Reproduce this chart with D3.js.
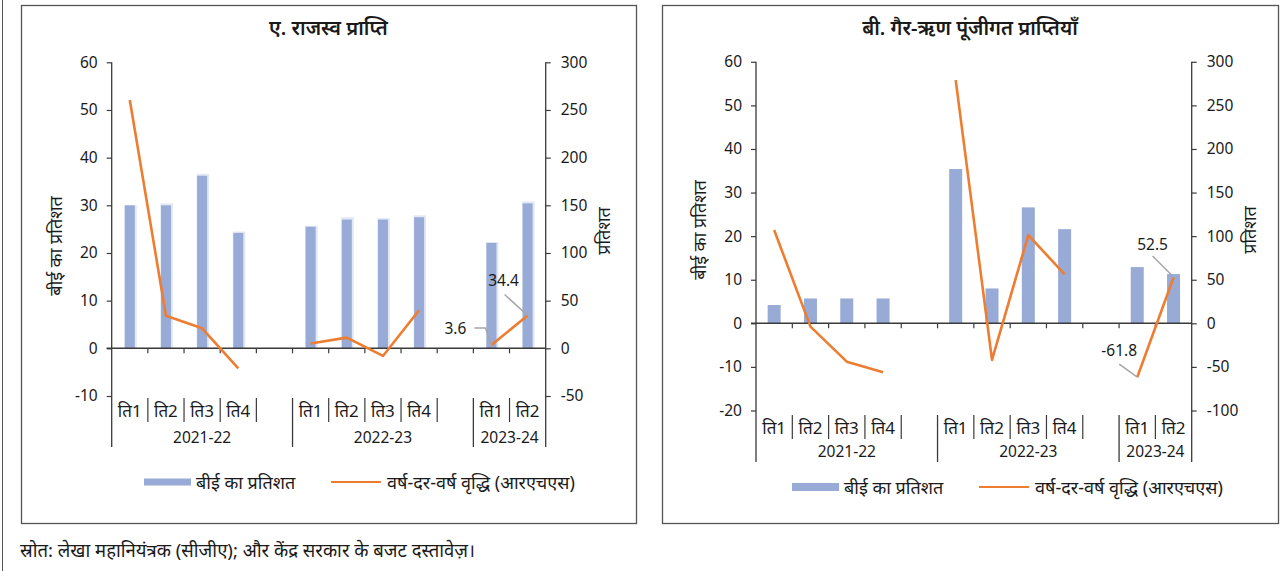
<!DOCTYPE html>
<html>
<head>
<meta charset="utf-8">
<script src="https://cdn.jsdelivr.net/npm/d3@7"></script>
<style>
  html, body { margin: 0; padding: 0; background: #fff; }
  svg { display: block; }
  text { font-family: "Noto Sans", "Lohit Devanagari", "FreeSans", sans-serif; fill: #1a1a1a; }
</style>
</head>
<body>
<svg id="chart" width="1286" height="571"></svg>
<script>
// Quarter slots (blank entries separate fiscal years)
const quarters = ["ति1", "ति2", "ति3", "ति4", "", "ति1", "ति2", "ति3", "ति4", "", "ति1", "ति2"];
const years = ["2021-22", "2022-23", "2023-24"];
const yearSpans = [[0, 5], [5, 10], [10, 12]];

// A. Revenue receipts
const revShareBE = [30.0, 30.0, 36.2, 24.2, null, 25.5, 27.0, 27.0, 27.5, null, 22.1, 30.4];
const revShareBEShadow = [30.0, 30.4, 36.6, 24.5, null, 25.7, 27.5, 27.3, 27.9, null, 22.3, 30.8];
const revGrowth = [260.4, 34.2, 21.0, -21.0, null, 5.0, 11.2, -8.0, 40.0, null, 3.6, 34.4];

// B. Non-debt capital receipts
const capShareBE = [4.2, 5.7, 5.7, 5.7, null, 35.4, 8.0, 26.6, 21.6, null, 12.9, 11.3];
const capGrowth = [107.0, -3.8, -44.0, -56.0, null, 279.0, -42.0, 101.3, 56.2, null, -61.8, 52.5];

const leftTicksA = [-10, 0, 10, 20, 30, 40, 50, 60];
const rightTicksA = [-50, 0, 50, 100, 150, 200, 250, 300];
const leftTicksB = [-20, -10, 0, 10, 20, 30, 40, 50, 60];
const rightTicksB = [-100, -50, 0, 50, 100, 150, 200, 250, 300];

const titles = ["ए. राजस्व प्राप्ति", "बी. गैर-ऋण पूंजीगत प्राप्तियाँ"];
const yTitleLeft = "बीई का प्रतिशत";
const yTitleRight = "प्रतिशत";
const legendBar = "बीई का प्रतिशत";
const legendLine = "वर्ष-दर-वर्ष वृद्धि (आरएचएस)";
const sourceNote = "स्रोत: लेखा महानियंत्रक (सीजीए); और केंद्र सरकार के बजट दस्तावेज़।";

const BAR = "#98aad6";
const BAR_SHADOW = "#e1e7f4";
const LINE = "#ed7d31";
const AXIS = "#3a3a3a";
const LEADER = "#a6a6a6";
const NUM_FONT = '"Noto Sans", sans-serif';

const svg = d3.select("#chart");

// outer frame line on the left
svg.append("line").attr("x1", 2.5).attr("x2", 2.5).attr("y1", 0).attr("y2", 571)
  .attr("stroke", "#555").attr("stroke-width", 1);

function drawPanel(cfg) {
  const g = svg.append("g");
  g.append("rect").attr("x", cfg.box[0] + 0.5).attr("y", cfg.box[1] + 0.5)
    .attr("width", cfg.box[2] - cfg.box[0]).attr("height", cfg.box[3] - cfg.box[1])
    .attr("fill", "none").attr("stroke", "#555").attr("stroke-width", 1.3);

  g.append("text").attr("x", (cfg.box[0] + cfg.box[2]) / 2).attr("y", 27)
    .attr("text-anchor", "middle").attr("dominant-baseline", "central")
    .attr("font-size", 20).attr("font-weight", 600).text(cfg.title);

  const x = d3.scaleBand().domain(d3.range(quarters.length)).range([cfg.x0, cfg.x1]).paddingInner(0).paddingOuter(0);
  const yL = d3.scaleLinear().domain(cfg.leftDomain).range([cfg.yBottom, cfg.yTop]);
  const yR = d3.scaleLinear().domain(cfg.rightDomain).range([cfg.yBottom, cfg.yTop]);
  const bw = cfg.barWidth;

  // faint companion bars
  if (cfg.shadow) {
    g.append("g").selectAll("rect").data(cfg.shadow.map((v, i) => ({ v, i })).filter(d => d.v != null))
      .join("rect")
      .attr("x", d => x(d.i) + x.bandwidth() / 2 - bw / 2 - 0.5)
      .attr("width", bw + 2.5)
      .attr("y", d => yL(d.v))
      .attr("height", d => yL(0) - yL(d.v))
      .attr("fill", BAR_SHADOW);
  }

  // bars
  g.append("g").selectAll("rect").data(cfg.bars.map((v, i) => ({ v, i })).filter(d => d.v != null))
    .join("rect")
    .attr("x", d => x(d.i) + x.bandwidth() / 2 - bw / 2)
    .attr("width", bw)
    .attr("y", d => yL(Math.max(0, d.v)))
    .attr("height", d => Math.abs(yL(0) - yL(d.v)))
    .attr("fill", BAR);

  // value axes
  const fmt = d => String(d);
  const axL = d3.axisLeft(yL).tickValues(cfg.leftTicks).tickSize(5).tickPadding(9).tickFormat(fmt);
  const gL = g.append("g").attr("transform", `translate(${cfg.x0},0)`).call(axL);
  const axR = d3.axisRight(yR).tickValues(cfg.rightTicks).tickSize(5).tickPadding(10).tickFormat(fmt);
  const gR = g.append("g").attr("transform", `translate(${cfg.x1},0)`).call(axR);
  [gL, gR].forEach(a => {
    a.select(".domain").remove();
    a.selectAll(".tick line").attr("stroke", AXIS).attr("stroke-width", 1.2);
    a.selectAll(".tick text").attr("font-size", 15.5).attr("fill", "#1a1a1a")
      .style("font-family", NUM_FONT);
  });
  // vertical axis lines extend down to the category labels
  g.append("line").attr("x1", cfg.x0).attr("x2", cfg.x0).attr("y1", cfg.yTop).attr("y2", cfg.catBottom)
    .attr("stroke", AXIS).attr("stroke-width", 1.3);
  g.append("line").attr("x1", cfg.x1).attr("x2", cfg.x1).attr("y1", cfg.yTop).attr("y2", cfg.catBottom)
    .attr("stroke", AXIS).attr("stroke-width", 1.3);

  // zero line with slot ticks
  g.append("line").attr("x1", cfg.x0 - 5).attr("x2", cfg.x1).attr("y1", yL(0)).attr("y2", yL(0))
    .attr("stroke", AXIS).attr("stroke-width", 1.5);
  g.append("g").selectAll("line").data(d3.range(1, quarters.length)).join("line")
    .attr("x1", i => x(i)).attr("x2", i => x(i))
    .attr("y1", yL(0)).attr("y2", yL(0) + 5)
    .attr("stroke", AXIS).attr("stroke-width", 1.2);

  // growth line (right axis)
  const line = d3.line().defined(d => d.v != null)
    .x(d => x(d.i) + x.bandwidth() / 2).y(d => yR(d.v));
  g.append("path").datum(cfg.line.map((v, i) => ({ v, i })))
    .attr("d", line).attr("fill", "none").attr("stroke", LINE).attr("stroke-width", 2.6)
    .attr("stroke-linejoin", "round");

  // category labels: quarters
  g.append("g").selectAll("text").data(quarters.map((q, i) => ({ q, i })).filter(d => d.q))
    .join("text")
    .attr("x", d => x(d.i) + x.bandwidth() / 2).attr("y", cfg.qY)
    .attr("text-anchor", "middle").attr("dominant-baseline", "central")
    .attr("font-size", 17).text(d => d.q);
  // separators between quarters
  const seps = [];
  yearSpans.forEach(([a, b]) => {
    const n = quarters.slice(a, b).filter(q => q).length;
    for (let k = 1; k <= n; k++) if (a + k < b) seps.push(a + k);
  });
  g.append("g").selectAll("line").data(seps).join("line")
    .attr("x1", i => x(i)).attr("x2", i => x(i))
    .attr("y1", cfg.qY - 12).attr("y2", cfg.qY + 12)
    .attr("stroke", AXIS).attr("stroke-width", 1.2);
  // year group lines and labels
  const bounds = [...new Set(yearSpans.flat())].filter(i => i > 0 && i < quarters.length);
  g.append("g").selectAll("line").data(bounds).join("line")
    .attr("x1", i => x(i)).attr("x2", i => x(i))
    .attr("y1", cfg.qY - 12).attr("y2", cfg.catBottom)
    .attr("stroke", AXIS).attr("stroke-width", 1.3);
  g.append("g").selectAll("text").data(years).join("text")
    .attr("x", (d, k) => (x(yearSpans[k][0]) + (yearSpans[k][1] < quarters.length ? x(yearSpans[k][1]) : cfg.x1)) / 2)
    .attr("y", cfg.yearY).attr("text-anchor", "middle").attr("dominant-baseline", "central")
    .attr("font-size", 15.5).style("font-family", NUM_FONT).text(d => d);

  // axis titles
  g.append("text").attr("transform", `translate(${cfg.x0 - 57},${cfg.yTitleY}) rotate(-90)`)
    .attr("text-anchor", "middle").attr("dominant-baseline", "central")
    .attr("font-size", 18).text(yTitleLeft);
  g.append("text").attr("transform", `translate(${cfg.x1 + 57},${cfg.yTitleRY}) rotate(-90)`)
    .attr("text-anchor", "middle").attr("dominant-baseline", "central")
    .attr("font-size", 18).text(yTitleRight);

  // data labels with leader lines
  cfg.labels.forEach(lb => {
    const px = x(lb.i) + x.bandwidth() / 2, py = yR(cfg.line[lb.i]);
    g.append("polyline")
      .attr("points", lb.leader(px, py).map(p => p.join(",")).join(" "))
      .attr("fill", "none").attr("stroke", LEADER).attr("stroke-width", 1.5);
    g.append("text").attr("x", px + lb.dx).attr("y", py + lb.dy)
      .attr("text-anchor", "middle").attr("dominant-baseline", "central")
      .attr("font-size", 15.5).style("font-family", NUM_FONT)
      .text(cfg.line[lb.i].toFixed(1));
  });

  // legend
  const L = cfg.legend;
  g.append("rect").attr("x", L.x).attr("y", L.y - L.h / 2).attr("width", 47).attr("height", L.h).attr("fill", BAR);
  g.append("text").attr("x", L.x + 52).attr("y", L.y).attr("dominant-baseline", "central")
    .attr("font-size", 18).text(legendBar);
  g.append("line").attr("x1", L.lx).attr("x2", L.lx + 50).attr("y1", L.y).attr("y2", L.y)
    .attr("stroke", LINE).attr("stroke-width", 2.2);
  g.append("text").attr("x", L.lx + 56).attr("y", L.y).attr("dominant-baseline", "central")
    .attr("font-size", 18).text(legendLine);
}

drawPanel({
  box: [21, 5, 636, 523], title: titles[0],
  x0: 111.7, x1: 545.7, yTop: 62.3, yBottom: 396,
  leftDomain: [-10, 60], rightDomain: [-50, 300],
  leftTicks: leftTicksA, rightTicks: rightTicksA,
  bars: revShareBE, shadow: revShareBEShadow, line: revGrowth, barWidth: 10,
  qY: 410, yearY: 437, catBottom: 447, yTitleY: 246, yTitleRY: 231,
  labels: [
    { i: 10, dx: -36, dy: -17, leader: (px, py) => [[px - 17, py - 17], [px - 6, py - 17], [px, py]] },
    { i: 11, dx: -24, dy: -36, leader: (px, py) => [[px - 23, py - 21], [px, py]] }
  ],
  legend: { x: 144, y: 482, h: 7, lx: 331 }
});

drawPanel({
  box: [662, 5, 1278, 523], title: titles[1],
  x0: 756, x1: 1191.7, yTop: 61.8, yBottom: 410.5,
  leftDomain: [-20, 60], rightDomain: [-100, 300],
  leftTicks: leftTicksB, rightTicks: rightTicksB,
  bars: capShareBE, shadow: null, line: capGrowth, barWidth: 13,
  qY: 427, yearY: 451, catBottom: 462, yTitleY: 230, yTitleRY: 230,
  labels: [
    { i: 10, dx: -18, dy: -27, leader: (px, py) => [[px - 18, py - 13], [px, py]] },
    { i: 11, dx: -21, dy: -34, leader: (px, py) => [[px - 21, py - 21.5], [px - 2, py - 2.5]] }
  ],
  legend: { x: 792, y: 487, h: 8, lx: 979 }
});

svg.append("text").attr("x", 20).attr("y", 549).attr("dominant-baseline", "central")
  .attr("font-size", 18.5).text(sourceNote);
</script>
</body>
</html>
